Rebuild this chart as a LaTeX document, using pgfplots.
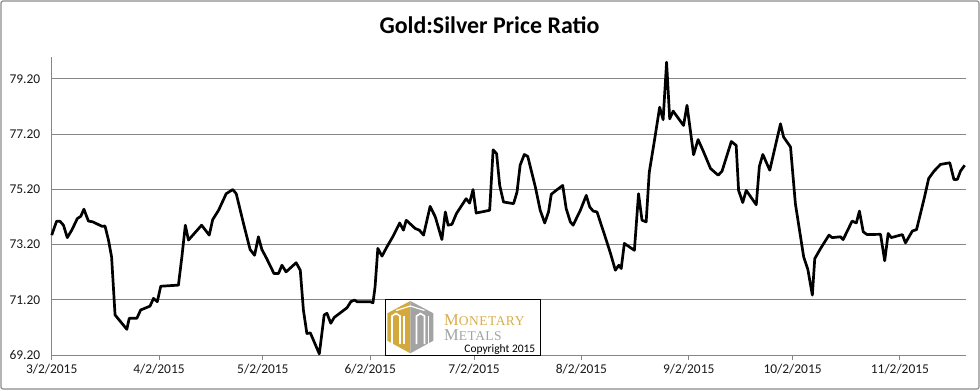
\documentclass[border=0pt]{standalone}
\usepackage{fontspec}
\setmainfont{Carlito}
\newfontfamily\logoserif[LetterSpace=4]{Liberation Serif}
\usepackage{pgfplots}
\pgfplotsset{compat=1.18}
\definecolor{gridgray}{HTML}{868686}
\definecolor{axisgray}{HTML}{868686}
\definecolor{framegray}{HTML}{8C8C8C}
\definecolor{labelcol}{HTML}{1A1A1A}
\definecolor{mmgold}{HTML}{D3A93D}
\definecolor{mmgoldtext}{HTML}{D8AE4C}
\definecolor{mmgray}{HTML}{A3A3A3}
\begin{document}
\begin{tikzpicture}[x=1bp,y=1bp]
\useasboundingbox (0,0) rectangle (980,390);
\fill[white] (0,0) rectangle (980,390);
\draw[framegray, line width=1.2bp, rounded corners=2bp] (1,1) rectangle (979,389);
\node[font=\bfseries\fontsize{24}{24}\selectfont, text=black] at (489.5,365) {Gold:Silver Price Ratio};
\begin{axis}[
  at={(51.7bp,35bp)}, anchor=south west,
  scale only axis, width=914bp, height=298.3bp,
  xmin=0, xmax=264, ymin=69.2, ymax=80,
  axis x line*=bottom, axis y line*=left,
  axis line style={draw=axisgray, line width=0.9bp, -},
  ymajorgrids, grid style={draw=gridgray, line width=0.9bp},
  xtick={0,31,61,92,122,153,184,214,245},
  xticklabels={3/2/2015,4/2/2015,5/2/2015,6/2/2015,7/2/2015,8/2/2015,9/2/2015,10/2/2015,11/2/2015},
  ytick={69.2,71.2,73.2,75.2,77.2,79.2},
  yticklabels={69.20,71.20,73.20,75.20,77.20,79.20},
  tick align=outside,
  major tick length=5bp,
  xtick style={draw=axisgray, line width=0.9bp},
  ytick style={draw=none},
  tick label style={font=\fontsize{13.5}{13.5}\selectfont, text=labelcol},
  yticklabel style={xshift=-3bp},
  xticklabel style={yshift=-1bp},
  clip=false,
]
\addplot[black, line width=2.7bp, line join=round, no markers] coordinates {
(0,73.54) (1.4,74.04) (2.4,74.04) (3.4,73.90) (4.5,73.45) (5.8,73.72) (7.4,74.14) (8.4,74.22) (9.3,74.48) (10.6,74.05) (11.9,74.02) (14.5,73.86) (15.4,73.87) (16.4,73.36) (17.3,72.75) (18.3,70.65) (21.7,70.13) (22.4,70.53) (24.6,70.53) (25.7,70.83) (28.4,70.97) (29.4,71.25) (30.5,71.13) (31.5,71.69) (36.6,71.73) (37.6,72.75) (38.6,73.90) (39.5,73.36) (43.3,73.90)
(45.5,73.54) (46.5,74.10) (48.2,74.44) (50.4,75.04) (52.3,75.19) (53.3,75.04) (55.4,73.96) (57.3,73.02) (58.6,72.81) (59.7,73.48) (60.7,73.02) (62.1,72.69) (64.2,72.15) (65.5,72.15) (66.5,72.45) (67.7,72.21) (70.6,72.54) (71.8,72.27) (72.7,70.83) (73.7,69.98) (74.7,70.00) (77.3,69.24) (78.7,70.65) (79.5,70.71) (80.6,70.35) (81.6,70.56) (85.3,70.91) (86.4,71.13) (87.4,71.19)
(88.2,71.13) (92.0,71.13) (92.8,71.09) (93.4,71.67) (94.2,73.06) (95.4,72.78) (96.8,73.11) (98.6,73.50) (100.5,73.98) (101.6,73.72) (102.4,74.08) (105.0,73.78) (106.2,73.72) (107.4,73.54) (109.3,74.58) (110.8,74.20) (112.7,73.38) (113.7,74.38) (114.5,73.90) (115.6,73.93) (116.9,74.32) (119.7,74.86) (120.7,74.70) (121.7,75.19) (122.6,74.34) (126.5,74.44) (127.5,76.63) (128.5,76.49) (129.4,75.34) (130.5,74.74)
(133.4,74.68) (134.4,75.10) (135.3,76.07) (136.5,76.46) (137.5,76.39) (139.7,75.28) (141.1,74.44) (142.4,73.98) (143.5,74.38) (144.3,75.02) (146.0,75.19) (147.6,75.34) (148.6,74.50) (149.8,74.02) (150.6,73.90) (152.7,74.44) (154.4,74.98) (155.4,74.56) (156.4,74.41) (157.5,74.38) (159.4,73.66) (161.4,72.88) (162.8,72.27) (163.8,72.45) (164.5,72.33) (165.4,73.24) (168.3,72.99) (169.5,75.04) (170.5,74.08) (171.7,74.02) (172.6,75.82) (174.1,76.97)
(175.6,78.17) (176.6,77.72) (177.6,79.80) (178.5,77.75) (179.5,78.03) (182.5,77.51) (183.5,78.24) (185.4,76.45) (186.7,77.00) (188.3,76.55) (190.3,75.95) (192.5,75.71) (193.6,75.85) (196.3,76.93) (197.7,76.79) (198.4,75.16) (199.6,74.72) (200.6,75.16) (203.5,74.64) (204.4,76.03) (205.4,76.46) (207.4,75.89) (210.5,77.57) (211.4,77.09) (213.4,76.73) (214.8,74.68)
(217.2,72.75) (218.4,72.30) (219.7,71.37) (220.4,72.69) (222.1,73.06) (224.5,73.54) (225.4,73.45) (227.8,73.48) (228.6,73.38) (231.2,74.05) (232.4,73.98) (233.3,74.41) (234.4,73.66) (235.5,73.56) (239.4,73.57) (240.6,72.61) (241.6,73.60) (242.5,73.45) (245.7,73.56) (246.6,73.26) (248.6,73.69) (249.8,73.74) (252.1,74.92) (253.3,75.59) (254.8,75.85) (256.7,76.10) (259.4,76.16) (260.6,75.55) (261.6,75.56) (262.5,75.86) (263.7,76.07)
};
\end{axis}
% logo box
\filldraw[fill=white, draw=black, line width=0.8bp] (385.7,35) rectangle (540,90.7);
\fill[mmgold] (410.3,89) -- (387.3,76.7) -- (387.3,49.3) -- (410.3,36.7) -- cycle;
\fill[mmgray] (410.3,89) -- (433.3,76.7) -- (433.3,49.3) -- (410.3,36.7) -- cycle;
\draw[white, line width=1.6bp] (392,46) -- (392,74) -- (396,76.5) -- (400,74) -- (400,46);
\draw[white, line width=1.6bp] (404,46) -- (404,74);
\draw[white, line width=1.6bp] (416.5,46) -- (416.5,74) -- (420.5,76.5) -- (424.5,74) -- (424.5,46);
\draw[white, line width=1.6bp] (428.5,46) -- (428.5,74);
\draw[white, line width=1.2bp] (396,79.5) -- (410.3,84) -- (424.5,79.5);
\node[anchor=base west, inner sep=0, text height=11bp, text depth=0bp, text=mmgoldtext] at (444,64.5) {\logoserif{\fontsize{16.5}{16.5}\selectfont M}{\fontsize{13.5}{13.5}\selectfont ONETARY}};
\node[anchor=base west, inner sep=0, text height=11bp, text depth=0bp, text=mmgray] at (444,49.5) {\logoserif{\fontsize{16.5}{16.5}\selectfont M}{\fontsize{13.5}{13.5}\selectfont ETALS}};
\node[anchor=base east, inner sep=0, text height=8.5bp, text depth=0bp, text=black, font=\fontsize{11.5}{11.5}\selectfont] at (535.5,38) {Copyright 2015};
\end{tikzpicture}
\end{document}
